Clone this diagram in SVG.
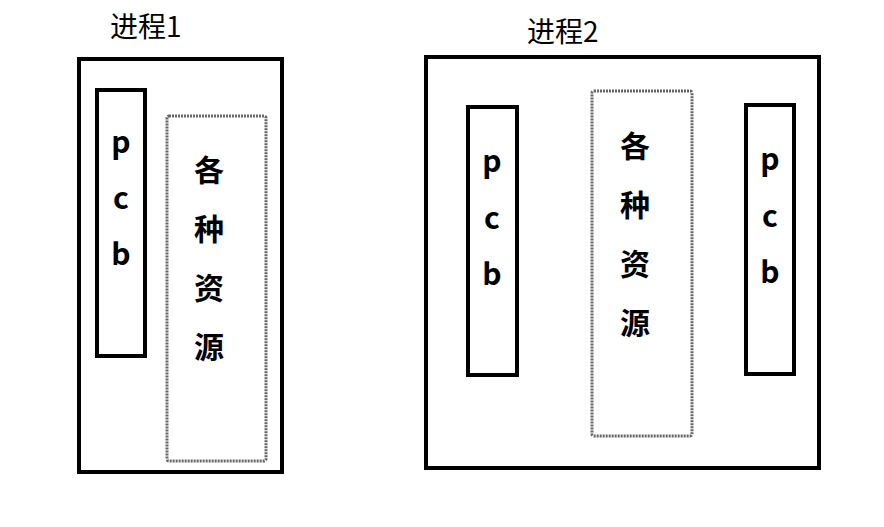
<svg xmlns="http://www.w3.org/2000/svg" width="884" height="527" viewBox="0 0 884 527">
<style>
.box{fill:none;stroke:#000;stroke-width:4}
.res{fill:none;stroke:#666;stroke-width:3;stroke-dasharray:2 1}
.t{font-family:"Noto Sans CJK SC","Noto Sans",sans-serif;font-size:30px;font-weight:bold;text-anchor:middle}
.title{font-family:"Noto Sans CJK SC","Noto Sans",sans-serif;font-size:28px}
</style>
<rect width="884" height="527" fill="#fff"/>
<g id="p1">
<text class="title" x="110" y="37">进程1</text>
<rect class="box" x="79" y="59" width="203" height="413"/>
</g>
<g id="pcb1"><rect class="box" x="97" y="90" width="48" height="266"/>
<text class="t" x="121" y="153">p</text><text class="t" x="121" y="209">c</text><text class="t" x="121" y="265">b</text></g>
<g id="res1"><rect class="res" x="167" y="116" width="99" height="345" rx="2"/>
<text class="t" x="209" y="181">各</text><text class="t" x="209" y="240">种</text><text class="t" x="209" y="299">资</text><text class="t" x="209" y="358">源</text></g>
<g id="p2">
<text class="title" x="527" y="42">进程2</text>
<rect class="box" x="426" y="57" width="393" height="411"/>
</g>
<g id="pcb2a"><rect class="box" x="468" y="107" width="49" height="268"/>
<text class="t" x="492" y="172">p</text><text class="t" x="492" y="229">c</text><text class="t" x="492" y="285">b</text></g>
<g id="res2"><rect class="res" x="592" y="91" width="100" height="345" rx="2"/>
<text class="t" x="635" y="157">各</text><text class="t" x="635" y="216">种</text><text class="t" x="635" y="275">资</text><text class="t" x="635" y="334">源</text></g>
<g id="pcb2b"><rect class="box" x="746" y="105" width="48" height="269"/>
<text class="t" x="770" y="170">p</text><text class="t" x="770" y="227">c</text><text class="t" x="770" y="283">b</text></g>
<g id="connectors"/>
</svg>
